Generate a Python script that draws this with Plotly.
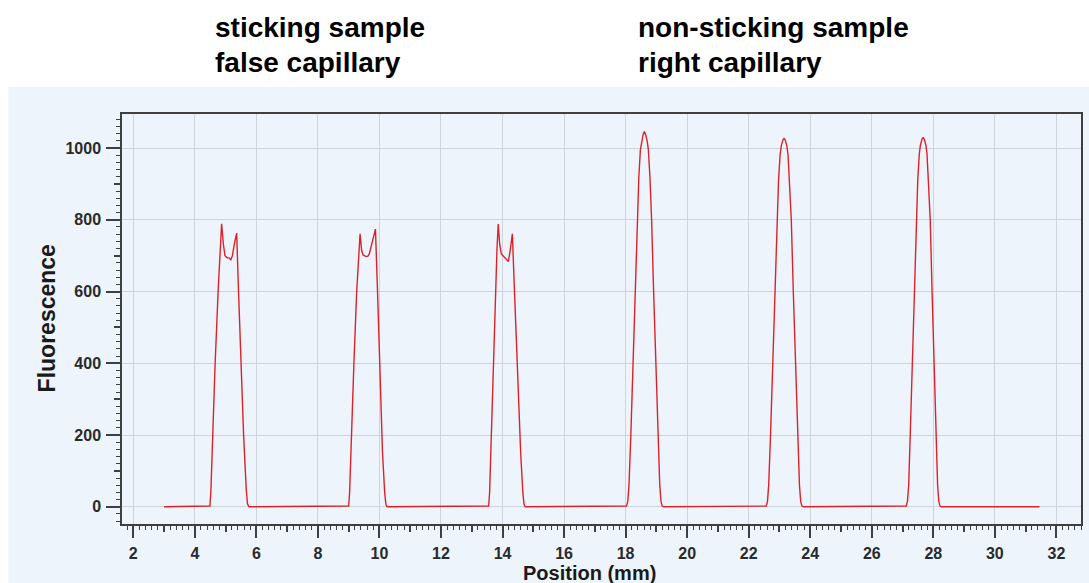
import plotly.graph_objects as go

# ---- data ----
position_mm = [
    3.0,
    # capillary 1 (sticking sample)
    4.45, 4.49, 4.52, 4.575, 4.66, 4.757, 4.82, 4.87, 4.93, 4.98, 5.05, 5.12, 5.17, 5.22, 5.29, 5.36,
    5.42, 5.50, 5.585, 5.67, 5.71, 5.76,
    # capillary 2 (sticking sample)
    8.96, 9.0, 9.03, 9.085, 9.17, 9.26, 9.32, 9.37, 9.42, 9.47, 9.55, 9.62, 9.67, 9.74, 9.81, 9.87,
    9.93, 9.99, 10.04, 10.10, 10.17, 10.21, 10.25,
    # capillary 3 (sticking sample)
    13.51, 13.55, 13.58, 13.635, 13.70, 13.78, 13.82, 13.86, 13.91, 13.96, 14.05, 14.12, 14.19, 14.24, 14.32,
    14.38, 14.45, 14.52, 14.59, 14.66, 14.70, 14.74,
    # capillary 4 (non-sticking sample)
    17.97, 18.03, 18.07, 18.11, 18.17, 18.24, 18.31, 18.375, 18.43, 18.48, 18.52, 18.57, 18.61,
    18.65, 18.70, 18.74, 18.79, 18.845, 18.91, 18.98, 19.05, 19.11, 19.15, 19.19, 19.25,
    # capillary 5 (non-sticking sample)
    22.51, 22.57, 22.61, 22.65, 22.71, 22.78, 22.85, 22.915, 22.97, 23.02, 23.06, 23.11, 23.15,
    23.19, 23.24, 23.28, 23.33, 23.385, 23.45, 23.52, 23.59, 23.65, 23.69, 23.73, 23.79,
    # capillary 6 (non-sticking sample)
    27.07, 27.12, 27.16, 27.20, 27.25, 27.315, 27.38, 27.44, 27.495, 27.545, 27.58, 27.63, 27.67,
    27.71, 27.76, 27.795, 27.845, 27.90, 27.96, 28.025, 28.09, 28.14, 28.18, 28.22, 28.27,
    31.45,
]
fluorescence = [
    0,
    0, 2, 40, 200, 400, 600, 730, 789, 730, 700, 694, 694, 688, 700, 735, 763,
    600, 400, 200, 50, 8, 0,
    0, 2, 40, 200, 400, 600, 710, 761, 715, 702, 698, 698, 705, 730, 755, 774,
    620, 450, 300, 150, 40, 6, 0,
    0, 2, 40, 200, 400, 600, 720, 788, 730, 705, 697, 692, 684, 710, 761,
    620, 460, 300, 150, 40, 6, 0,
    0, 2, 15, 60, 200, 400, 600, 800, 920, 995, 1020, 1038, 1046,
    1038, 1020, 995, 920, 800, 600, 400, 200, 60, 15, 2, 0,
    0, 2, 15, 60, 200, 400, 600, 800, 910, 980, 1006, 1022, 1028,
    1022, 1006, 980, 910, 800, 600, 400, 200, 60, 15, 2, 0,
    0, 2, 15, 60, 200, 400, 600, 800, 912, 984, 1008, 1024, 1030,
    1024, 1008, 984, 912, 800, 600, 400, 200, 60, 15, 2, 0,
    0,
]
x_range = [1.633, 32.8]
y_range = [-48, 1095]
x_tick_step = 2
y_tick_step = 200
header_left = ["sticking sample", "false capillary"]
header_right = ["non-sticking sample", "right capillary"]
x_title = "Position (mm)"
y_title = "Fluorescence"

# ---- styling ----
PANEL = "#EEF4FB"
GRID = "#CDD4DE"
AXIS = "#3f3f3f"
FONT = "Liberation Sans, Arial, sans-serif"

fig = go.Figure()
fig.add_trace(go.Scatter(
    x=position_mm, y=fluorescence, mode="lines",
    line=dict(color="#dc2229", width=1.4), hoverinfo="skip", showlegend=False,
))

tickfont = dict(family=FONT, size=16, color="#2a2a2a", weight="bold")

fig.update_layout(
    width=1089, height=583,
    margin=dict(l=122, r=6, t=114, b=59),
    paper_bgcolor="white",
    plot_bgcolor=PANEL,
    showlegend=False,
    xaxis=dict(
        range=x_range, dtick=x_tick_step, tick0=0,
        showgrid=True, gridcolor=GRID, gridwidth=1,
        zeroline=False,
        showline=True, linecolor=AXIS, linewidth=1.5, mirror=True,
        ticks="outside", ticklen=12, tickwidth=1.5, tickcolor=AXIS,
        minor=dict(dtick=0.2, tick0=0, ticks="outside", ticklen=4, tickwidth=1.2,
                   tickcolor=AXIS, showgrid=False),
        tickfont=tickfont, ticklabelstandoff=2,
    ),
    xaxis2=dict(
        range=x_range, overlaying="x", anchor="y", side="bottom",
        dtick=1, tick0=1, showgrid=False, zeroline=False, showline=False,
        ticks="outside", ticklen=7, tickwidth=1.5, tickcolor=AXIS,
        showticklabels=False,
    ),
    yaxis=dict(
        range=y_range, dtick=y_tick_step, tick0=0,
        showgrid=True, gridcolor=GRID, gridwidth=1,
        zeroline=False,
        showline=True, linecolor=AXIS, linewidth=1.5, mirror=True,
        ticks="outside", ticklen=14, tickwidth=1.5, tickcolor=AXIS,
        minor=dict(dtick=20, tick0=0, ticks="outside", ticklen=4, tickwidth=1.2,
                   tickcolor=AXIS, showgrid=False),
        tickfont=tickfont, ticklabelstandoff=2,
    ),
    yaxis2=dict(
        range=y_range, overlaying="y", anchor="x", side="left",
        dtick=100, tick0=0, showgrid=False, zeroline=False, showline=False,
        ticks="outside", ticklen=7, tickwidth=1.5, tickcolor=AXIS,
        showticklabels=False,
    ),
)

# light-blue panel behind the chart
fig.add_shape(type="rect", xref="paper", yref="paper",
              x0=-0.1186, x1=1.02, y0=-0.2, y1=1.066,
              fillcolor=PANEL, line_width=0, layer="below")

# invisible helper traces so the overlay axes are drawn
fig.add_trace(go.Scatter(x=[x_range[0]], y=[0], xaxis="x2", yaxis="y", mode="markers",
                         marker=dict(opacity=0), hoverinfo="skip", showlegend=False))
fig.add_trace(go.Scatter(x=[x_range[0]], y=[0], xaxis="x", yaxis="y2", mode="markers",
                         marker=dict(opacity=0), hoverinfo="skip", showlegend=False))

hfont = dict(family=FONT, size=28, color="black", weight="bold")
for texts, xp in ((header_left, 0.0947), (header_right, 0.536)):
    for t, yp in zip(texts, (1.2098, 1.1268)):
        fig.add_annotation(text=t, xref="paper", yref="paper", x=xp, y=yp,
                           xanchor="left", yanchor="middle", showarrow=False, font=hfont)

afont = dict(family=FONT, size=20, color="#1a1a1a", weight="bold")
fig.add_annotation(text=y_title, xref="paper", yref="paper", x=-0.078, y=0.502,
                   textangle=-90, xanchor="center", yanchor="middle", showarrow=False,
                   font=dict(afont, size=23))
fig.add_annotation(text=x_title, xref="paper", yref="paper", x=0.487, y=-0.1195,
                   xanchor="center", yanchor="middle", showarrow=False, font=afont)

fig.write_html("out.html")
